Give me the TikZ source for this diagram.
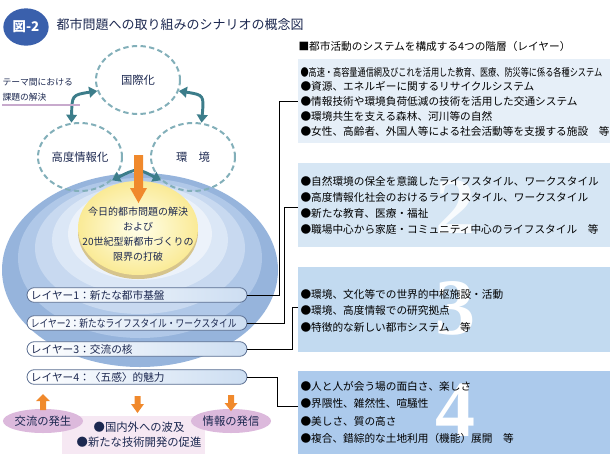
\documentclass[tikz,border=0pt]{standalone}
\usepackage{fontspec}
\setmainfont{Noto Sans CJK JP}
\newfontfamily\bignum{Liberation Serif}
\usetikzlibrary{arrows.meta,shapes.geometric}

\definecolor{badgeblue}{RGB}{58,96,172}
\definecolor{panelA}{RGB}{230,239,248}
\definecolor{panelB}{RGB}{214,230,244}
\definecolor{panelC}{RGB}{194,218,240}
\definecolor{panelD}{RGB}{172,202,236}
\definecolor{domeA}{RGB}{150,180,220}
\definecolor{domeB}{RGB}{176,200,232}
\definecolor{domeC}{RGB}{200,217,240}
\definecolor{domeD}{RGB}{219,231,246}
\definecolor{domeE}{RGB}{236,242,250}
\definecolor{discrim}{RGB}{214,196,140}
\definecolor{disctop}{RGB}{250,234,150}
\definecolor{ringteal}{RGB}{130,175,185}
\definecolor{arrteal}{RGB}{60,125,138}
\definecolor{orangearr}{RGB}{240,137,44}
\definecolor{lilac}{RGB}{220,185,220}
\definecolor{pinkbg}{RGB}{246,232,243}
\definecolor{navytext}{RGB}{28,40,80}
\definecolor{pillline}{RGB}{90,110,145}
\definecolor{pillblue}{RGB}{205,222,242}
\definecolor{underl}{RGB}{200,170,205}

\tikzset{every picture/.style={line width=0.75pt}}
\tikzset{
  txt/.style={inner sep=0pt, text=navytext},
  ring/.style={ellipse, draw=ringteal, line width=1.5pt, dash pattern={on 4pt off 2.5pt}, minimum width=63pt, minimum height=51pt, inner sep=0pt, text=navytext, font=\fontsize{8.5}{10}\selectfont},
  twoway/.style={arrteal, line width=2.2pt, {Triangle[width=8pt,length=6pt]}-{Triangle[width=8pt,length=6pt]}},
  layer/.style={draw=pillline, line width=0.6pt, left color=white, right color=pillblue, rounded corners=5.5pt, minimum height=11pt, text width=159pt, inner xsep=3pt, inner ysep=0pt, align=left, text=navytext, font=\fontsize{8}{10}\selectfont},
  link/.style={line width=0.6pt, black},
  bullets/.style={anchor=west, align=left, inner sep=0pt, text=black},
  effect/.style={ellipse, fill=lilac, minimum width=50pt, minimum height=18pt, inner sep=0pt, text=navytext, font=\fontsize{8.5}{10}\selectfont},
  numeral/.style={text=white, font=\bignum\bfseries\fontsize{60}{60}\selectfont}
}

\begin{document}
\begin{tikzpicture}[x=0.75pt,y=0.75pt,yscale=-1,xscale=1]
	\path[use as bounding box] (0,0) rectangle (610,454);

	%Title
	\node[ellipse, fill=badgeblue, minimum width=34pt, minimum height=28pt, inner sep=0pt, text=white, font=\bfseries\fontsize{10}{11}\selectfont] (badge) at (26,27) {図-2};
	\node[txt, anchor=west, font=\fontsize{9.75}{11}\selectfont] (title) at (56,25) {都市問題への取り組みのシナリオの概念図};

	%Panels of the four layers
	\fill[panelA] (298,59) rectangle (610,143);
	\fill[panelB] (298,163) rectangle (610,247);
	\fill[panelC] (298,267) rectangle (610,352);
	\fill[panelD] (298,371) rectangle (610,454);
	\node[numeral, opacity=0.85] (n2) at (455,207) {2};
	\node[numeral] (n3) at (455,308) {3};
	\node[numeral] (n4) at (455,410) {4};

	% Text Node
	\node[bullets, text=black, font=\fontsize{8}{10}\selectfont] (head) at (298,46) {■都市活動のシステムを構成する4つの階層（レイヤー）};
	% Text Node
	\node[bullets, font=\fontsize{8}{11.06}\selectfont] (t1) at (300,101.5) {\scalebox{0.765}[1]{●高速・高容量通信網及びこれを活用した教育、医療、防災等に係る各種システム}\\●資源、エネルギーに関するリサイクルシステム\\●情報技術や環境負荷低減の技術を活用した交通システム\\●環境共生を支える森林、河川等の自然\\●女性、高齢者、外国人等による社会活動等を支援する施設　等};
	% Text Node
	\node[bullets, font=\fontsize{8}{12}\selectfont] (t2) at (300,205) {●自然環境の保全を意識したライフスタイル、ワークスタイル\\●高度情報化社会のおけるライフスタイル、ワークスタイル\\●新たな教育、医療・福祉\\●職場中心から家庭・コミュニティ中心のライフスタイル　等};
	% Text Node
	\node[bullets, font=\fontsize{8}{12.4}\selectfont] (t3) at (300,310.5) {●環境、文化等での世界的中枢施設・活動\\●環境、高度情報での研究拠点\\●特徴的な新しい都市システム　等};
	% Text Node
	\node[bullets, font=\fontsize{8}{13.1}\selectfont] (t4) at (300,412.5) {●人と人が会う場の面白さ、楽しさ\\●界隈性、雑然性、喧騒性\\●美しさ、質の高さ\\●複合、錯綜的な土地利用（機能）展開　等};

	%Dome of layers
	\fill[domeA] (140,270) ellipse [x radius=138, y radius=97];
	\fill[domeB] (140,258) ellipse [x radius=122, y radius=80];
	\fill[domeC] (140,248) ellipse [x radius=105, y radius=66];
	\fill[domeD] (140,240) ellipse [x radius=88, y radius=55];
	\fill[domeE] (140,234) ellipse [x radius=72, y radius=46];
	%Core disc
	\fill[discrim] (138,232) ellipse [x radius=60, y radius=47];
	\shade[inner color=yellow!8!white, outer color=disctop] (138,228) ellipse [x radius=60, y radius=47];

	%Theme circles
	\node[ring] (kokusai) at (138,80) {国際化};
	\node[ring] (jouhou) at (80,157) {高度情報化};
	\node[ring] (kankyo) at (193,157) {環　境};
	\draw[twoway] (kokusai.195) .. controls (72,95) .. (jouhou.104);
	\draw[twoway] (kokusai.345) .. controls (204,95) .. (kankyo.76);
	\draw[twoway] (jouhou.324) .. controls (137,168) .. (kankyo.216);

	% Text Node
	\node[txt, anchor=west, align=left, font=\fontsize{6.6}{11.25}\selectfont] (theme) at (2,90) {テーマ間における\\課題の解決};
	\draw[underl, line width=0.8pt] (2,105) -- (80,105);

	%Orange arrow into the core
	\fill[orangearr] (134,155) -- (143,155) -- (143,188) -- (147,188) -- (138.5,203) -- (130,188) -- (134,188) -- cycle;

	% Text Node
	\node[txt, align=center, font=\fontsize{7.5}{11.3}\selectfont] (core) at (138,234) {今日的都市問題の解決\\および\\20世紀型新都市づくりの\\限界の打破};

	%Layers
	\node[layer] (l1) at (137,295) {レイヤー1：新たな都市基盤};
	\node[layer] (l2) at (137,323) {\scalebox{0.82}[1]{レイヤー2：新たなライフスタイル・ワークスタイル}};
	\node[layer] (l3) at (137,349) {レイヤー3：交流の核};
	\node[layer] (l4) at (137,377) {レイヤー4：〈五感〉的魅力};

	%Links to the panels
	\coordinate (k1) at (279,101);
	\coordinate (c1) at (298,101);
	\coordinate (k2) at (284,207);
	\coordinate (c2) at (298,207);
	\coordinate (k3) at (292,307);
	\coordinate (c3) at (298,307);
	\coordinate (k4) at (277,406);
	\coordinate (c4) at (298,406);
	\draw[link] (l1.east) -| (k1) -- (c1);
	\draw[link] (l2.east) -| (k2) -- (c2);
	\draw[link] (l3.east) -| (k3) -- (c3);
	\draw[link] (l4.east) -| (k4) -- (c4);

	%Effects
	\fill[pinkbg] (62,416) rectangle (205,454);
	\node[effect] (hassei) at (43,421) {交流の発生};
	\node[effect] (hasshin) at (231,421) {情報の発信};
	\node[txt, align=center, font=\fontsize{8.5}{11}\selectfont] (hakyu) at (139,435) {●国内外への波及\\●新たな技術開発の促進};
	\fill[orangearr] (43,394) -- (50,401) -- (46,401) -- (46,410) -- (40,410) -- (40,401) -- (36,401) -- cycle;
	\fill[orangearr] (134.5,396) -- (140.5,396) -- (140.5,404) -- (144,404) -- (137.5,413) -- (131,404) -- (134.5,404) -- cycle;
	\fill[orangearr] (228,395) -- (234,395) -- (234,403) -- (237.5,403) -- (231,411) -- (224.5,403) -- (228,403) -- cycle;

\end{tikzpicture}
\end{document}
